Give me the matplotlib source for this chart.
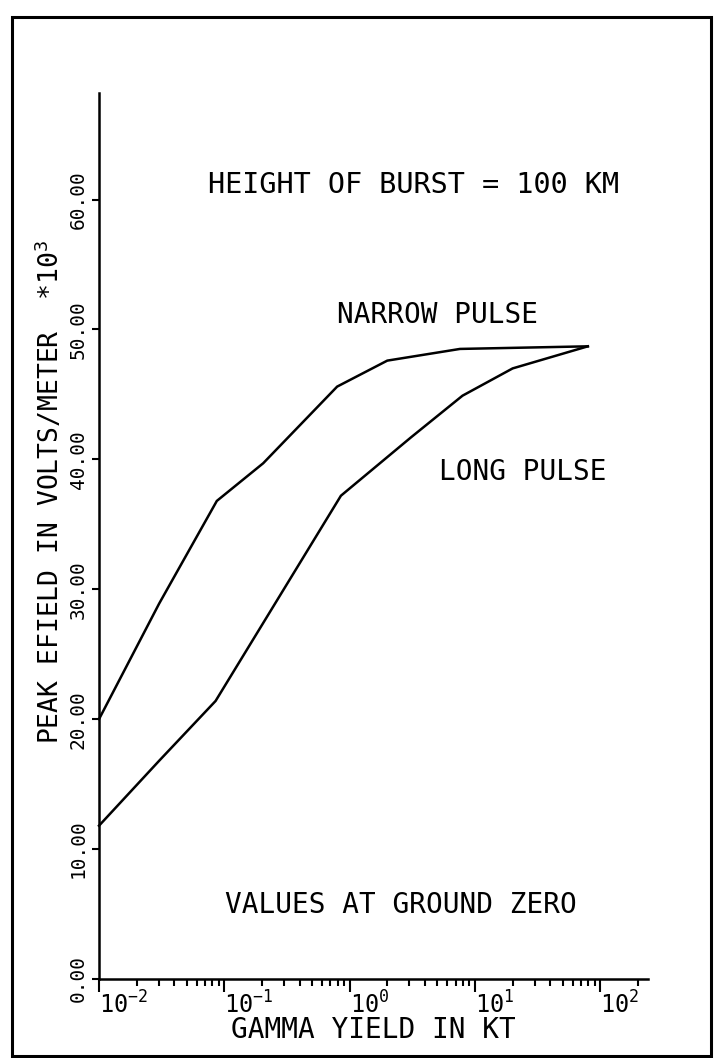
import numpy as np
import matplotlib
matplotlib.use("Agg")
import matplotlib.pyplot as plt
from matplotlib.patches import Rectangle

plt.rcParams['font.family'] = ['DejaVu Sans Mono']
plt.rcParams['mathtext.fontset'] = 'custom'
plt.rcParams['mathtext.rm'] = 'DejaVu Sans Mono'
plt.rcParams['mathtext.it'] = 'DejaVu Sans Mono'

# data (log10 of gamma yield in KT, peak E-field *10^3 V/m)
narrow_logx = [-2.0, -1.52, -1.06, -0.69, -0.10, 0.30, 0.88, 1.90]
narrow_y = [20.0, 28.9, 36.8, 39.7, 45.6, 47.6, 48.5, 48.7]
long_logx = [-2.0, -1.52, -1.07, -0.07, 0.49, 0.90, 1.30, 1.90]
long_y = [11.8, 16.8, 21.4, 37.2, 41.7, 44.9, 47.0, 48.7]

yticks = [0, 10, 20, 30, 40, 50, 60]
ytick_labels = ["0.00", "10.00", "20.00", "30.00", "40.00", "50.00", "60.00"]
xtick_exps = [-2, -1, 0, 1, 2]

fig = plt.figure(figsize=(7.2, 10.58), dpi=100)
ax = fig.add_axes([99/720, 1 - 979/1058, (648 - 99)/720, (979 - 93)/1058])

nx = 10.0 ** np.array(narrow_logx)
lx = 10.0 ** np.array(long_logx)
ax.plot(nx, narrow_y, color='black', lw=1.8, solid_joinstyle='miter', clip_on=False)
ax.plot(lx, long_y, color='black', lw=1.8, solid_joinstyle='miter', clip_on=False)

ax.set_xscale('log')
ax.set_xlim(1e-2, 10 ** 2.38)
ax.set_ylim(0, 68.2)

for s in ['top', 'right']:
    ax.spines[s].set_visible(False)
for s in ['left', 'bottom']:
    ax.spines[s].set_linewidth(1.8)

ax.set_yticks(yticks)
ax.set_yticklabels(ytick_labels, rotation=90, va='center', fontsize=14)
ax.tick_params(axis='y', direction='out', length=5, width=1.5, pad=3)

ax.set_xticks([10.0 ** e for e in xtick_exps])
ax.set_xticklabels([r"$10^{%d}$" % e for e in xtick_exps], ha='left', fontsize=17)
ax.xaxis.set_minor_locator(matplotlib.ticker.LogLocator(base=10, subs=np.arange(2, 10)))
ax.xaxis.set_minor_formatter(matplotlib.ticker.NullFormatter())
ax.tick_params(axis='x', which='major', direction='out', length=9, width=1.5, pad=0)
ax.tick_params(axis='x', which='minor', direction='out', length=5, width=1.5)

ax.text(0.5, -0.058, "GAMMA YIELD IN KT", transform=ax.transAxes,
        ha='center', va='center', fontsize=20)
ax.text(-0.09, 0.55, r"PEAK EFIELD IN VOLTS/METER  *10$^3$", transform=ax.transAxes,
        ha='center', va='center', rotation=90, fontsize=19)

ax.text(10 ** 0.51, 61.1, "HEIGHT OF BURST = 100 KM", ha='center', va='center', fontsize=20.5)
ax.text(10 ** 0.70, 51.1, "NARROW PULSE", ha='center', va='center', fontsize=20)
ax.text(10 ** 1.38, 39.0, "LONG PULSE", ha='center', va='center', fontsize=20)
ax.text(10 ** 0.41, 5.7, "VALUES AT GROUND ZERO", ha='center', va='center', fontsize=20)

fig.patches.append(Rectangle((12/720, 1 - 1056/1058), (711 - 12)/720, (1056 - 17)/1058,
                             transform=fig.transFigure, fill=False, lw=2.2,
                             edgecolor='black'))

fig.savefig("out.png", dpi=100)
